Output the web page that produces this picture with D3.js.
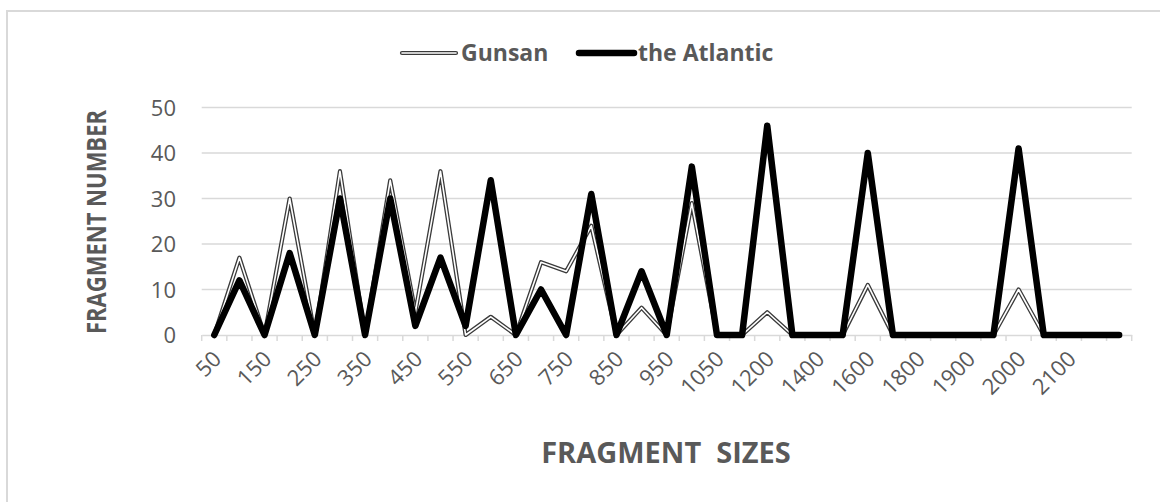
<!DOCTYPE html>
<html>
<head>
<meta charset="utf-8">
<script src="https://cdn.jsdelivr.net/npm/d3@7"></script>
<style>
  html, body { margin: 0; padding: 0; background: #fff; }
  svg { display: block; }
</style>
</head>
<body>
<svg id="chart" width="1160" height="502"></svg>
<script>
// ---- data ----
const categories = ["50","100","150","200","250","300","350","400","450","500",
  "550","600","650","700","750","800","850","900","950","1000",
  "1050","1100","1200","1300","1400","1500","1600","1700","1800","1850",
  "1900","1950","2000","2050","2100","2150","2200"];
const shownLabels = ["50","150","250","350","450","550","650","750","850","950",
  "1050","1200","1400","1600","1800","1900","2000","2100"];
const gunsan = [0,17,0,30,0,36,0,34,5,36,0,4,0,16,14,24,0,6,0,29,0,0,5,0,0,0,11,0,0,0,0,0,10,0,0,0,0];
const atlantic = [0,12,0,18,0,30,0,30,2,17,2,34,0,10,0,31,0,14,0,37,0,0,46,0,0,0,40,0,0,0,0,0,41,0,0,0,0];
const yTicks = [0,10,20,30,40,50];
const seriesNames = ["Gunsan","the Atlantic"];
const xTitle = "FRAGMENT  SIZES";
const yTitle = "FRAGMENT NUMBER";

// ---- layout ----
const svg = d3.select("#chart");
const plot = {left: 201.7, right: 1131.7, top: 107.5, bottom: 335};
const textColor = "#595959";
const font = "'Open Sans', 'Noto Sans', sans-serif";

// border
svg.append("path")
  .attr("d", "M7,502 V11 H1160")
  .attr("fill", "none").attr("stroke", "#d9d9d9").attr("stroke-width", 2);

const x = d3.scaleBand().domain(categories).range([plot.left, plot.right]);
const y = d3.scaleLinear().domain([0, 50]).range([plot.bottom, plot.top]);

// gridlines
svg.append("g").selectAll("line").data(yTicks.filter(d => d > 0)).join("line")
  .attr("x1", plot.left).attr("x2", plot.right)
  .attr("y1", d => y(d)).attr("y2", d => y(d))
  .attr("stroke", "#d9d9d9").attr("stroke-width", 1.5);

// y axis labels
const yAxis = d3.axisLeft(y).tickValues(yTicks).tickSize(0).tickPadding(0);
const gy = svg.append("g").attr("transform", `translate(176,0)`).call(yAxis);
gy.select(".domain").remove();
gy.selectAll("text").attr("font-family", font).attr("font-size", 22)
  .attr("fill", textColor).attr("dy", "0.35em");

// x axis
const xAxis = d3.axisBottom(x).tickSize(0).tickFormat(d => shownLabels.includes(d) ? d : "");
const gx = svg.append("g").attr("transform", `translate(0,${plot.bottom})`).call(xAxis);
gx.select(".domain").attr("stroke", "#d9d9d9").attr("stroke-width", 1.5);
gx.selectAll(".tick text")
  .attr("font-family", font).attr("font-size", 22).attr("fill", textColor)
  .attr("text-anchor", "end")
  .attr("dy", "0.35em")
  .attr("transform", function() { return "translate(3,20) rotate(-45)"; })
  .attr("y", 0).attr("x", 0);
// tick marks at band boundaries
const bounds = categories.map(c => x(c)).concat([x(categories[categories.length-1]) + x.bandwidth()]);
gx.append("g").selectAll("line").data(bounds).join("line")
  .attr("x1", d => d).attr("x2", d => d).attr("y1", 0).attr("y2", 6)
  .attr("stroke", "#d9d9d9").attr("stroke-width", 1.5);

// lines
const line = d3.line()
  .x((d, i) => x(categories[i]) + x.bandwidth() / 2)
  .y(d => y(d));

const gLines = svg.append("g");
gLines.append("path").datum(gunsan).attr("d", line)
  .attr("fill", "none").attr("stroke", "#3a3a3a").attr("stroke-width", 4.2)
  .attr("stroke-linejoin", "round").attr("stroke-linecap", "round");
gLines.append("path").datum(gunsan).attr("d", line)
  .attr("fill", "none").attr("stroke", "#ffffff").attr("stroke-width", 1.6)
  .attr("stroke-linejoin", "round").attr("stroke-linecap", "round");
gLines.append("path").datum(atlantic).attr("d", line)
  .attr("fill", "none").attr("stroke", "#000").attr("stroke-width", 6.5)
  .attr("stroke-linejoin", "round").attr("stroke-linecap", "round");

// legend
const leg = svg.append("g");
leg.append("line").attr("x1", 402).attr("x2", 456).attr("y1", 53).attr("y2", 53)
  .attr("stroke", "#3a3a3a").attr("stroke-width", 4.2).attr("stroke-linecap", "round");
leg.append("line").attr("x1", 402).attr("x2", 456).attr("y1", 53).attr("y2", 53)
  .attr("stroke", "#fff").attr("stroke-width", 1.6).attr("stroke-linecap", "round");
leg.append("text").attr("x", 461).attr("y", 53).attr("dy", "0.35em")
  .attr("font-family", font).attr("font-weight", "bold").attr("font-size", 23)
  .attr("fill", textColor).text(seriesNames[0]);
leg.append("line").attr("x1", 579).attr("x2", 634).attr("y1", 53).attr("y2", 53)
  .attr("stroke", "#000").attr("stroke-width", 6.5).attr("stroke-linecap", "round");
leg.append("text").attr("x", 638).attr("y", 53).attr("dy", "0.35em")
  .attr("font-family", font).attr("font-weight", "bold").attr("font-size", 23)
  .attr("fill", textColor).text(seriesNames[1]);

// axis titles
svg.append("text").attr("x", 666).attr("y", 453).attr("dy", "0.35em")
  .attr("text-anchor", "middle").attr("font-family", font).attr("font-weight", "bold")
  .attr("font-size", 29).attr("fill", textColor).attr("xml:space", "preserve")
  .style("white-space", "pre").text(xTitle);
svg.append("text").attr("transform", "translate(97,222) rotate(-90)").attr("dy", "0.35em")
  .attr("text-anchor", "middle").attr("font-family", font).attr("font-weight", "bold")
  .attr("font-size", 27).attr("textLength", 224).attr("lengthAdjust", "spacingAndGlyphs")
  .attr("fill", textColor).text(yTitle);
</script>
</body>
</html>
